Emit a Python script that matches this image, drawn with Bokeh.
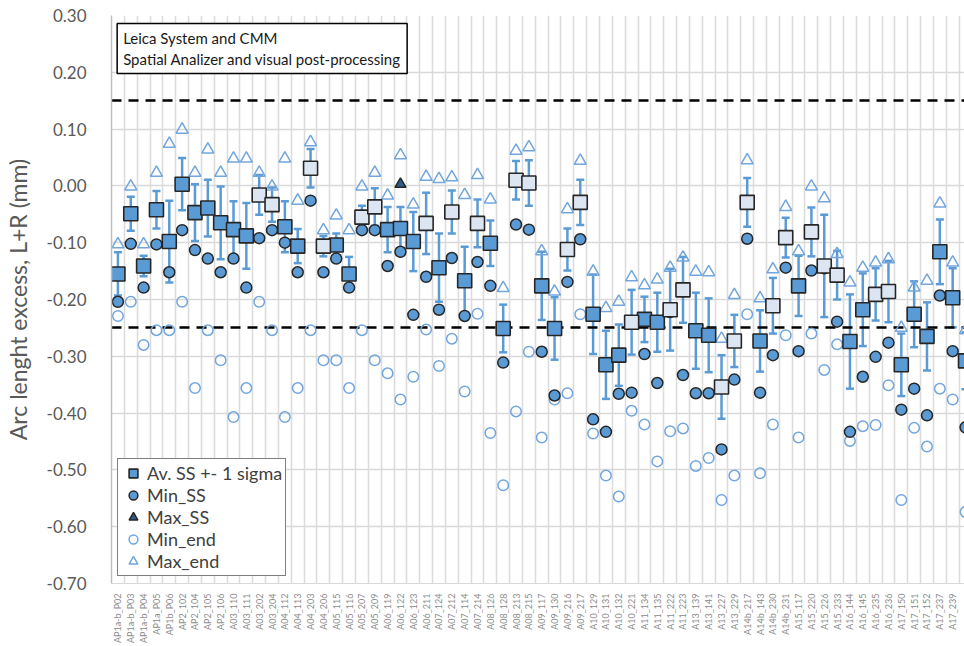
import numpy as np
from bokeh.plotting import figure
from bokeh.models import (ColumnDataSource, Whisker, TeeHead, FixedTicker, NumeralTickFormatter,
                          Legend, LegendItem, Label, CDSView, BooleanFilter, Range1d)
from bokeh.embed import file_html
from bokeh.resources import INLINE

cats = ["AP1a-b_P02", "AP1a-b_P03", "AP1a-b_P04", "AP1a_P05", "AP1b_P06", "AP2_102", "AP2_104",
        "AP2_105", "AP2_106", "A03_110", "A03_111", "A03_202", "A03_204", "A04_112", "A04_113",
        "A04_203", "A04_206", "A05_115", "A05_116", "A05_207", "A05_209", "A06_119", "A06_122",
        "A06_123", "A06_211", "A07_124", "A07_212", "A07_114", "A07_214", "A08_126", "A08_128",
        "A08_213", "A08_215", "A09_117", "A09_130", "A09_216", "A09_217", "A10_129", "A10_131",
        "A10_132", "A10_221", "A11_134", "A11_135", "A11_222", "A11_223", "A13_139", "A13_141",
        "A13_227", "A13_229", "A14b_217", "A14b_143", "A14b_230", "A14b_231", "A15_117",
        "A15_220", "A15_226", "A15_233", "A16_144", "A16_145", "A16_235", "A16_236", "A17_150",
        "A17_151", "A17_152", "A17_237", "A17_239", "A17_240"]

av_ss = [-0.155, -0.049, -0.141, -0.042, -0.098, 0.003, -0.047, -0.039, -0.065, -0.077,
         -0.088, -0.016, -0.033, -0.072, -0.106, 0.031, -0.106, -0.104, -0.155, -0.055,
         -0.037, -0.077, -0.075, -0.098, -0.066, -0.144, -0.046, -0.167, -0.066, -0.101,
         -0.251, 0.010, 0.005, -0.176, -0.251, -0.112, -0.029, -0.226, -0.315, -0.298,
         -0.240, -0.235, -0.240, -0.218, -0.183, -0.255, -0.263, -0.354, -0.273, -0.029,
         -0.273, -0.211, -0.091, -0.176, -0.081, -0.141, -0.157, -0.274, -0.218, -0.191,
         -0.186, -0.315, -0.226, -0.265, -0.116, -0.197, -0.308]

sigma_ss = [0.038, 0.030, 0.018, 0.033, 0.072, 0.046, 0.050, 0.050, 0.064, 0.050,
            0.058, 0.035, 0.030, 0.045, 0.030, 0.034, 0.018, 0.020, 0.030, 0.020,
            0.033, 0.040, 0.038, 0.052, 0.054, 0.060, 0.038, 0.060, 0.042, 0.040,
            0.042, 0.034, 0.040, 0.060, 0.055, 0.037, 0.040, 0.070, 0.060, 0.054,
            0.057, 0.040, 0.052, 0.072, 0.058, 0.067, 0.065, 0.056, 0.046, 0.043,
            0.054, 0.049, 0.035, 0.053, 0.043, 0.090, 0.043, 0.083, 0.064, 0.046,
            0.054, 0.055, 0.058, 0.060, 0.057, 0.052, 0.050]

min_ss = [-0.204, -0.102, -0.179, -0.103, -0.152, -0.078, -0.113, -0.128, -0.152, -0.128,
          -0.179, -0.092, -0.078, -0.100, -0.152, -0.026, -0.152, -0.128, -0.179, -0.078,
          -0.078, -0.141, -0.116, -0.227, -0.160, -0.218, -0.127, -0.229, -0.134, -0.176,
          -0.311, -0.068, -0.077, -0.292, -0.369, -0.169, -0.094, -0.411, -0.433, -0.366,
          -0.364, -0.296, -0.347, -0.222, -0.333, -0.365, -0.365, -0.464, -0.341, -0.093,
          -0.364, -0.298, -0.144, -0.291, -0.149, -0.145, -0.239, -0.433, -0.336, -0.301,
          -0.276, -0.394, -0.357, -0.404, -0.193, -0.291, -0.425]

max_ss = [np.nan] * 22 + [0.003] + [np.nan] * 44

min_end = [-0.229, -0.204, -0.280, -0.254, -0.254, -0.204, -0.356, -0.254, -0.307, -0.407,
           -0.356, -0.204, -0.254, -0.407, -0.356, -0.254, -0.307, -0.307, -0.356, -0.254,
           -0.307, -0.330, -0.376, -0.336, -0.253, -0.317, -0.269, -0.362, -0.225, -0.435,
           -0.527, -0.397, -0.292, -0.443, -0.376, -0.365, -0.226, -0.436, -0.510, -0.547,
           -0.396, -0.420, -0.485, -0.432, -0.427, -0.493, -0.479, -0.553, -0.510, -0.226,
           -0.506, -0.420, -0.263, -0.443, -0.260, -0.324, -0.279, -0.449, -0.423, -0.421,
           -0.351, -0.553, -0.426, -0.459, -0.357, -0.376, -0.574]

max_end = [-0.103, -0.001, -0.103, 0.023, 0.074, 0.099, 0.023, 0.064, 0.023, 0.048,
           0.048, 0.023, -0.001, 0.048, -0.026, 0.077, -0.078, -0.052, -0.078, -0.001,
           0.023, -0.017, 0.054, -0.033, 0.016, 0.012, 0.015, -0.016, 0.019, -0.024,
           -0.180, 0.062, 0.068, -0.115, -0.186, -0.041, 0.044, -0.151, -0.215, -0.204,
           -0.161, -0.175, -0.165, -0.144, -0.126, -0.151, -0.152, -0.269, -0.192, 0.045,
           -0.198, -0.147, -0.037, -0.115, -0.001, -0.022, -0.120, -0.170, -0.144, -0.135,
           -0.129, -0.250, -0.179, -0.167, -0.031, -0.135, -0.254]

# points drawn with the pale square marker
pale_square = [0, 0, 0, 0, 0, 0, 0, 0, 0, 0, 0, 1, 1, 0, 0, 1, 1, 0, 0, 1,
               1, 0, 0, 0, 1, 0, 1, 0, 1, 0, 0, 1, 1, 0, 0, 1, 1, 0, 0, 0,
               1, 0, 0, 1, 1, 0, 0, 1, 1, 1, 0, 1, 1, 0, 1, 1, 1, 0, 0, 1,
               1, 0, 0, 0, 0, 0, 0]

limits = [0.15, -0.25]
y_ticks = [-0.70, -0.60, -0.50, -0.40, -0.30, -0.20, -0.10, 0.00, 0.10, 0.20, 0.30]

FONT = "Lato"
BLUE = "#5B9BD5"
PALE = "#DCE6F2"
EDGE = "#262626"
OPEN = "#72A6DC"

xs = list(range(len(cats)))
src = ColumnDataSource(dict(
    x=xs,
    av=np.array(av_ss, dtype=float),
    upper=np.array(av_ss) + np.array(sigma_ss),
    lower=np.array(av_ss) - np.array(sigma_ss),
    min_ss=np.array(min_ss, dtype=float),
    max_ss=np.array(max_ss, dtype=float),
    min_end=np.array(min_end, dtype=float),
    max_end=np.array(max_end, dtype=float),
))

p = figure(width=964, height=646, output_backend="svg", toolbar_location=None,
           x_range=Range1d(-0.5, 65.92), y_range=Range1d(-0.70, 0.30),
           min_border_left=107, min_border_right=0, min_border_top=15, min_border_bottom=58)
p.outline_line_color = None
p.background_fill_color = "white"

# grid
p.ygrid.ticker = FixedTicker(ticks=y_ticks)
p.ygrid.grid_line_color = "#D9D9D9"
p.ygrid.grid_line_width = 1.5
p.xgrid.ticker = FixedTicker(ticks=[i + 0.5 for i in xs])
p.xgrid.grid_line_color = "#DCDCDC"
p.xgrid.grid_line_width = 1.6

# axes
p.yaxis.ticker = FixedTicker(ticks=y_ticks)
p.yaxis.formatter = NumeralTickFormatter(format="0.00")
p.yaxis.axis_label = "Arc lenght excess, L+R (mm)"
p.yaxis.axis_label_text_font = FONT
p.yaxis.axis_label_text_font_size = "23px"
p.yaxis.axis_label_text_font_style = "normal"
p.yaxis.axis_label_text_color = "#595959"
p.yaxis.axis_label_standoff = 12
p.yaxis.major_label_text_font = FONT
p.yaxis.major_label_text_font_size = "17px"
p.yaxis.major_label_text_color = "#595959"
p.yaxis.major_label_standoff = 19
p.yaxis.axis_line_color = "#BFBFBF"
p.yaxis.axis_line_width = 1.5
p.yaxis.major_tick_line_color = None
p.yaxis.minor_tick_line_color = None

p.xaxis.ticker = FixedTicker(ticks=xs)
p.xaxis.major_label_overrides = {i: c for i, c in zip(xs, cats)}
p.xaxis.major_label_orientation = np.pi / 2
p.xaxis.major_label_text_font = FONT
p.xaxis.major_label_text_font_size = "9px"
p.xaxis.major_label_text_color = "#8C8C8C"
p.xaxis.major_label_standoff = 4
p.xaxis.axis_line_color = "#D9D9D9"
p.xaxis.major_tick_line_color = None
p.xaxis.minor_tick_line_color = None

# limit lines
p.hspan(y=limits, line_color="black", line_width=2.5, line_dash="10 7")

# error bars
wh = Whisker(source=src, base="x", upper="upper", lower="lower",
             line_color=BLUE, line_width=2.5,
             upper_head=TeeHead(size=8, line_color=BLUE, line_width=2.5),
             lower_head=TeeHead(size=8, line_color=BLUE, line_width=2.5))
p.add_layout(wh)

r_min_end = p.scatter("x", "min_end", source=src, marker="circle", size=10.5,
                      fill_color=None, line_color=OPEN, line_width=1.5)
r_max_end = p.scatter("x", "max_end", source=src, marker="triangle", size=12,
                      fill_color=None, line_color=OPEN, line_width=1.5)
r_min_ss = p.scatter("x", "min_ss", source=src, marker="circle", size=11,
                     fill_color=BLUE, line_color=EDGE, line_width=1.5)
r_max_ss = p.scatter("x", "max_ss", source=src, marker="triangle", size=11,
                     fill_color="#2E5C8A", line_color=EDGE, line_width=1.5)

blue_view = CDSView(filter=BooleanFilter([v == 0 for v in pale_square]))
pale_view = CDSView(filter=BooleanFilter([v == 1 for v in pale_square]))
r_sq = p.scatter("x", "av", source=src, view=blue_view, marker="square", size=14,
                 fill_color=BLUE, line_color=EDGE, line_width=1.6)
p.scatter("x", "av", source=src, view=pale_view, marker="square", size=14,
          fill_color=PALE, line_color=EDGE, line_width=1.6)

legend = Legend(items=[
    LegendItem(label="Av. SS +- 1 sigma", renderers=[r_sq]),
    LegendItem(label="Min_SS", renderers=[r_min_ss]),
    LegendItem(label="Max_SS", renderers=[r_max_ss]),
    LegendItem(label="Min_end", renderers=[r_min_end]),
    LegendItem(label="Max_end", renderers=[r_max_end]),
], location=(6, 7))
legend.label_text_font = FONT
legend.label_text_font_size = "18px"
legend.label_text_color = "#404040"
legend.glyph_width = 24
legend.glyph_height = 22
legend.label_height = 21
legend.spacing = 0
legend.padding = 3
legend.margin = 0
legend.label_standoff = 2
legend.border_line_color = "black"
legend.border_line_width = 1.5
legend.background_fill_alpha = 1
p.add_layout(legend)

note = Label(x=-0.06, y=0.286, text="Leica System and CMM\nSpatial Analizer and visual post-processing",
             text_font=FONT, text_font_size="15px", text_color="#1a1a1a",
             text_align="left", text_baseline="top", text_line_height=1.12,
             padding=6, border_line_color="black", border_line_width=1.5,
             background_fill_color="white")
p.add_layout(note)

open("out.html", "w").write(file_html(p, INLINE))
